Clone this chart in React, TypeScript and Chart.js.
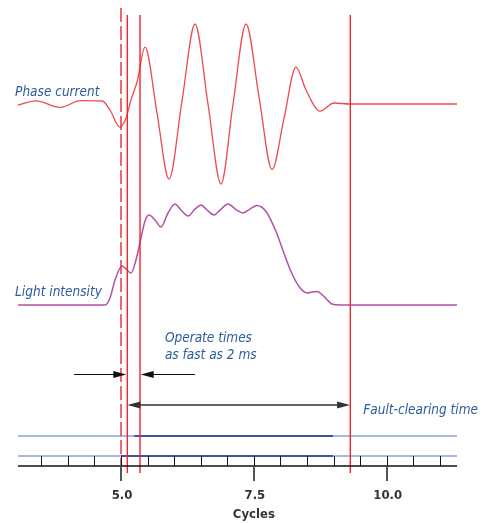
import { useEffect, useRef } from "react";
import { Chart, registerables } from "chart.js";

Chart.register(...registerables);

// ---- data (time in cycles) ----
const phaseTimes = [3.062, 3.391, 3.862, 4.238, 4.65, 4.793, 4.981, 5.094, 5.188, 5.301, 5.452, 5.677, 5.903, 6.148, 6.393, 6.637, 6.882, 7.108, 7.352, 7.597, 7.842, 8.067, 8.293, 8.481, 8.745, 9.008, 9.309, 11.323];
const phaseValues = [-0.0125, 0.04, -0.041, 0.041, 0.0375, -0.075, -0.29, -0.175, 0.05, 0.275, 0.71, -0.11, -0.94, 0.04, 1.0, 0.0, -1.0, 0.0, 1.0, 0.09, -0.82, -0.18, 0.46, 0.175, -0.09, 0.0125, 0.0, 0.0];

const lightTimes = [3.062, 4.699, 4.793, 4.887, 5.019, 5.113, 5.188, 5.282, 5.376, 5.452, 5.527, 5.64, 5.753, 5.884, 6.016, 6.129, 6.261, 6.393, 6.505, 6.618, 6.75, 6.882, 7.014, 7.164, 7.296, 7.428, 7.559, 7.729, 7.917, 8.011, 8.199, 8.35, 8.5, 8.594, 8.688, 8.82, 8.971, 9.121, 11.323];
const lightValues = [0, 0, 0.069, 0.248, 0.386, 0.347, 0.317, 0.446, 0.663, 0.832, 0.891, 0.842, 0.772, 0.911, 1.0, 0.941, 0.881, 0.95, 0.99, 0.941, 0.891, 0.95, 1.0, 0.945, 0.911, 0.95, 0.985, 0.926, 0.728, 0.594, 0.332, 0.183, 0.119, 0.129, 0.134, 0.084, 0.01, 0, 0];

const markerTimes = [5.0, 5.119, 5.358, 9.315];
const markerDashed = [true, false, false, false];

const signalLevels = [1, 0];
const signalOnStart = [5.25, 5.0];
const signalOnEnd = [8.99, 8.99];

const timeStart = 3.062;
const timeEnd = 11.323;
const minorTicks = [3.5, 4.0, 4.5, 5.0, 5.5, 6.0, 6.5, 7.0, 7.5, 8.0, 8.5, 9.0, 9.5, 10.0, 10.5, 11.0];
const majorTicks = [5.0, 7.5, 10.0];
const majorTickLabels = ["5.0", "7.5", "10.0"];

const operateArrowLeft = [4.116, 5.1];
const operateArrowRight = [6.393, 5.37];
const faultArrow = [5.12, 9.31];

const BLUE_TEXT = "#2b5c9c";
const LABEL_FONT = 'italic 13.5px "DejaVu Sans Condensed", "Liberation Sans Narrow", sans-serif';

function arrowHead(ctx: CanvasRenderingContext2D, tipX: number, y: number, dir: number, len: number, half: number) {
  ctx.beginPath();
  ctx.moveTo(tipX, y);
  ctx.lineTo(tipX - dir * len, y - half);
  ctx.lineTo(tipX - dir * len, y + half);
  ctx.closePath();
  ctx.fill();
}

const overlayPlugin = {
  id: "overlay",
  afterDatasetsDraw(chart: any) {
    const ctx: CanvasRenderingContext2D = chart.ctx;
    const x = chart.scales.x;
    const ys = chart.scales.ySig;
    const yc = chart.scales.yCur;
    const yl = chart.scales.yLight;
    const px = (t: number) => x.getPixelForValue(t);
    ctx.save();

    // time axis
    const axisY = ys.getPixelForValue(-0.5);
    ctx.strokeStyle = "#111";
    ctx.lineWidth = 1.5;
    ctx.beginPath();
    ctx.moveTo(px(timeStart), axisY);
    ctx.lineTo(px(timeEnd), axisY);
    ctx.stroke();
    ctx.lineWidth = 1;
    minorTicks.forEach((t) => {
      const p = Math.round(px(t)) + 0.5;
      ctx.beginPath();
      ctx.moveTo(p, ys.getPixelForValue(0));
      ctx.lineTo(p, axisY);
      ctx.stroke();
    });
    ctx.strokeStyle = "#555";
    ctx.lineWidth = 2;
    majorTicks.forEach((t) => {
      const p = Math.round(px(t));
      ctx.beginPath();
      ctx.moveTo(p, axisY);
      ctx.lineTo(p, ys.getPixelForValue(-1.25));
      ctx.stroke();
    });
    ctx.fillStyle = "#333";
    ctx.font = 'bold 13px "DejaVu Sans Condensed", "Liberation Sans Narrow", sans-serif';
    ctx.textAlign = "center";
    ctx.textBaseline = "alphabetic";
    majorTicks.forEach((t, i) => {
      ctx.fillText(majorTickLabels[i], px(t) + 1, ys.getPixelForValue(-2.15));
    });
    ctx.fillText("Cycles", px(7.5), ys.getPixelForValue(-3.1));

    // arrows
    ctx.fillStyle = "#111";
    ctx.strokeStyle = "#111";
    ctx.lineWidth = 1;
    const opY = Math.round(ys.getPixelForValue(4.085)) + 0.5;
    [operateArrowLeft, operateArrowRight].forEach(([tail, tip]) => {
      const dir = tip > tail ? 1 : -1;
      ctx.beginPath();
      ctx.moveTo(px(tail), opY);
      ctx.lineTo(px(tip) - dir * 6, opY);
      ctx.stroke();
      arrowHead(ctx, px(tip), opY, dir, 13, 3.5);
    });
    ctx.fillStyle = "#333";
    ctx.strokeStyle = "#666";
    ctx.lineWidth = 2;
    const fY = ys.getPixelForValue(2.55);
    ctx.beginPath();
    ctx.moveTo(px(faultArrow[0]) + 6, fY);
    ctx.lineTo(px(faultArrow[1]) - 6, fY);
    ctx.stroke();
    arrowHead(ctx, px(faultArrow[0]), fY, -1, 13, 3.5);
    arrowHead(ctx, px(faultArrow[1]), fY, 1, 13, 3.5);

    // labels
    ctx.fillStyle = BLUE_TEXT;
    ctx.font = LABEL_FONT;
    ctx.textAlign = "left";
    ctx.fillText("Phase current", px(3.007), yc.getPixelForValue(0.1));
    ctx.fillText("Light intensity", px(3.007), yl.getPixelForValue(0.089));
    ctx.fillText("Operate times", px(5.826), ys.getPixelForValue(5.715));
    ctx.fillText("as fast as 2 ms", px(5.826), ys.getPixelForValue(4.835));
    ctx.fillText("Fault-clearing time", px(9.56), ys.getPixelForValue(2.1));
    ctx.restore();
  },
};

export default function App() {
  const ref = useRef<HTMLCanvasElement | null>(null);
  useEffect(() => {
    if (!ref.current) return;
    const markerSets = markerTimes.map((t, i) => ({
      data: markerDashed[i]
        ? [{ x: t, y: 22.4 }, { x: t, y: -0.45 }]
        : [{ x: t, y: 22.05 }, { x: t, y: -0.85 }],
      yAxisID: "ySig",
      borderColor: "#f2232b",
      borderWidth: 1.4,
      borderDash: markerDashed[i] ? [14, 4] : [],
      pointRadius: 0,
      tension: 0,
    }));
    const signalOn = signalLevels.map((lv, i) => ({
      data: [{ x: signalOnStart[i], y: lv }, { x: signalOnEnd[i], y: lv }],
      yAxisID: "ySig",
      borderColor: "#3a56a6",
      borderWidth: 2.2,
      pointRadius: 0,
      tension: 0,
    }));
    const signalBase = signalLevels.map((lv) => ({
      data: [{ x: timeStart, y: lv }, { x: timeEnd, y: lv }],
      yAxisID: "ySig",
      borderColor: "#8c9fd6",
      borderWidth: 1.5,
      pointRadius: 0,
      tension: 0,
    }));
    const chart = new Chart(ref.current, {
      type: "line",
      data: {
        datasets: [
          ...markerSets,
          {
            data: phaseTimes.map((t, i) => ({ x: t, y: phaseValues[i] })),
            yAxisID: "yCur",
            borderColor: "#ef4a4f",
            borderWidth: 1.3,
            pointRadius: 0,
            cubicInterpolationMode: "monotone",
          },
          {
            data: lightTimes.map((t, i) => ({ x: t, y: lightValues[i] })),
            yAxisID: "yLight",
            borderColor: "#b152a8",
            borderWidth: 1.5,
            pointRadius: 0,
            cubicInterpolationMode: "monotone",
          },
          ...signalOn,
          ...signalBase,
        ] as any,
      },
      options: {
        animation: false,
        responsive: false,
        layout: { padding: 0 },
        plugins: { legend: { display: false }, tooltip: { enabled: false } },
        events: [],
        scales: {
          x: { type: "linear", display: false, min: 2.723, max: 11.906 },
          yCur: { type: "linear", display: false, min: -5.2375, max: 1.3 },
          yLight: { type: "linear", display: false, min: -2.158, max: 3.0198 },
          ySig: { type: "linear", display: false, min: -3.35, max: 22.8 },
        },
      },
      plugins: [overlayPlugin],
    });
    return () => chart.destroy();
  }, []);
  return (
    <div style={{ position: "fixed", left: 0, top: 0, width: 488, height: 523, background: "#fff" }}>
      <canvas ref={ref} width={488} height={523} style={{ display: "block" }} />
    </div>
  );
}
